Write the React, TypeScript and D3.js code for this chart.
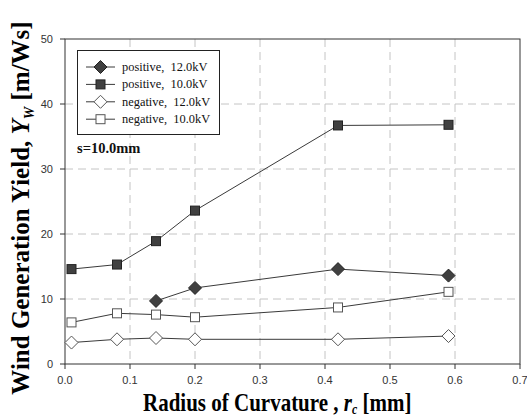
import React from 'react';
import * as d3 from 'd3';

// radius of curvature [mm]
const rAll = [0.01, 0.08, 0.14, 0.2, 0.42, 0.59];
const rPos12 = [0.14, 0.2, 0.42, 0.59];

const pos12 = [9.7, 11.7, 14.6, 13.6];
const pos10 = [14.6, 15.3, 18.9, 23.6, 36.7, 36.8];
const neg12 = [3.3, 3.8, 4.0, 3.8, 3.8, 4.3];
const neg10 = [6.4, 7.8, 7.6, 7.2, 8.7, 11.1];

const xTicks = [0, 0.1, 0.2, 0.3, 0.4, 0.5, 0.6, 0.7];
const yTicks = [0, 10, 20, 30, 40, 50];

const series = [
  { name: 'positive,  12.0kV', xs: rPos12, ys: pos12, shape: 'diamond', fill: '#404040' },
  { name: 'positive,  10.0kV', xs: rAll, ys: pos10, shape: 'square', fill: '#404040' },
  { name: 'negative,  12.0kV', xs: rAll, ys: neg12, shape: 'diamond', fill: '#ffffff' },
  { name: 'negative,  10.0kV', xs: rAll, ys: neg10, shape: 'square', fill: '#ffffff' },
];

const W = 527;
const H = 419;
const margin = { top: 39, right: 7, bottom: 55, left: 65 };

const x = d3.scaleLinear().domain([0, 0.7]).range([margin.left, W - margin.right]);
const y = d3.scaleLinear().domain([0, 50]).range([H - margin.bottom, margin.top]);

const serif = 'Liberation Serif, Times New Roman';
const sans = 'Liberation Sans, Arial';

const Marker = ({ cx, cy, shape, fill }: { cx: number; cy: number; shape: string; fill: string }) => {
  const stroke = fill === '#ffffff' ? '#555' : '#222';
  if (shape === 'diamond') {
    const r = 6.5;
    return (
      <path d={`M${cx},${cy - r}L${cx + r},${cy}L${cx},${cy + r}L${cx - r},${cy}Z`}
        fill={fill} stroke={stroke} strokeWidth={1} />
    );
  }
  const s = 4.5;
  return <rect x={cx - s} y={cy - s} width={s * 2} height={s * 2} fill={fill} stroke={stroke} strokeWidth={1} />;
};

const App = () => {
  const x0 = margin.left;
  const x1 = W - margin.right;
  const y0 = H - margin.bottom;
  const y1 = margin.top;

  const line = d3.line<[number, number]>()
    .x(d => x(d[0]))
    .y(d => y(d[1]));

  return (
    <svg width={W} height={H} style={{ position: 'absolute', left: 0, top: 0, background: '#fff' }}>
      {/* grid */}
      {xTicks.slice(1, -1).map(t => (
        <line key={'gx' + t} x1={x(t)} x2={x(t)} y1={y1} y2={y0} stroke="#c4c4c4" strokeDasharray="8,5" />
      ))}
      {yTicks.slice(1, -1).map(t => (
        <line key={'gy' + t} x1={x0} x2={x1} y1={y(t)} y2={y(t)} stroke="#c4c4c4" strokeDasharray="8,5" />
      ))}

      {/* frame */}
      <rect x={x0} y={y1} width={x1 - x0} height={y0 - y1} fill="none" stroke="#333" />

      {/* ticks */}
      {xTicks.map(t => (
        <g key={'tx' + t}>
          <line x1={x(t)} x2={x(t)} y1={y0} y2={y0 + 5} stroke="#333" />
          <text x={x(t)} y={y0 + 20} textAnchor="middle" fontFamily={sans} fontSize={11} fill="#333">
            {t.toFixed(1)}
          </text>
        </g>
      ))}
      {yTicks.map(t => (
        <g key={'ty' + t}>
          <line x1={x0 - 5} x2={x0} y1={y(t)} y2={y(t)} stroke="#333" />
          <text x={x0 - 12} y={y(t) + 4} textAnchor="end" fontFamily={sans} fontSize={11} fill="#333">{t}</text>
        </g>
      ))}

      {/* series */}
      {series.map(s => {
        const pts = s.xs.map((v, i) => [v, s.ys[i]] as [number, number]);
        return (
          <g key={s.name}>
            <path d={line(pts) || ''} fill="none" stroke="#3a3a3a" strokeWidth={1} />
            {pts.map((p, i) => (
              <Marker key={i} cx={x(p[0])} cy={y(p[1])} shape={s.shape} fill={s.fill} />
            ))}
          </g>
        );
      })}

      {/* legend */}
      <rect x={77.5} y={50.5} width={142} height={84} fill="#fff" stroke="#222" />
      {series.map((s, i) => {
        const ly = 67 + i * 17.4;
        return (
          <g key={'lg' + i}>
            <line x1={86} x2={115} y1={ly} y2={ly} stroke="#3a3a3a" />
            <Marker cx={100.5} cy={ly} shape={s.shape} fill={s.fill} />
            <text x={122} y={ly + 4} fontFamily={serif} fontSize={12.4} fill="#111"
              style={{ whiteSpace: 'pre' }}>{s.name}</text>
          </g>
        );
      })}
      <text x={77} y={153} fontFamily={serif} fontSize={14.5} fontWeight="bold" fill="#111">s=10.0mm</text>

      {/* axis titles */}
      <text transform="translate(143,410.5) scale(0.84,1)" fontFamily={serif}
        fontSize={25} fontWeight="bold" fill="#000">
        Radius of Curvature , <tspan fontStyle="italic">r</tspan>
        <tspan fontStyle="italic" fontSize={14} dy={3}>c</tspan>
        <tspan dy={-3}> [mm]</tspan>
      </text>
      <text transform="translate(29,208) rotate(-90)" textAnchor="middle"
        fontFamily={serif} fontSize={25} fontWeight="bold" fill="#000">
        Wind Generation Yield, <tspan fontStyle="italic">Y</tspan>
        <tspan fontStyle="italic" fontSize={14} dy={5}>W</tspan>
        <tspan dy={-5}> [m/Ws]</tspan>
      </text>
    </svg>
  );
};

export default App;
